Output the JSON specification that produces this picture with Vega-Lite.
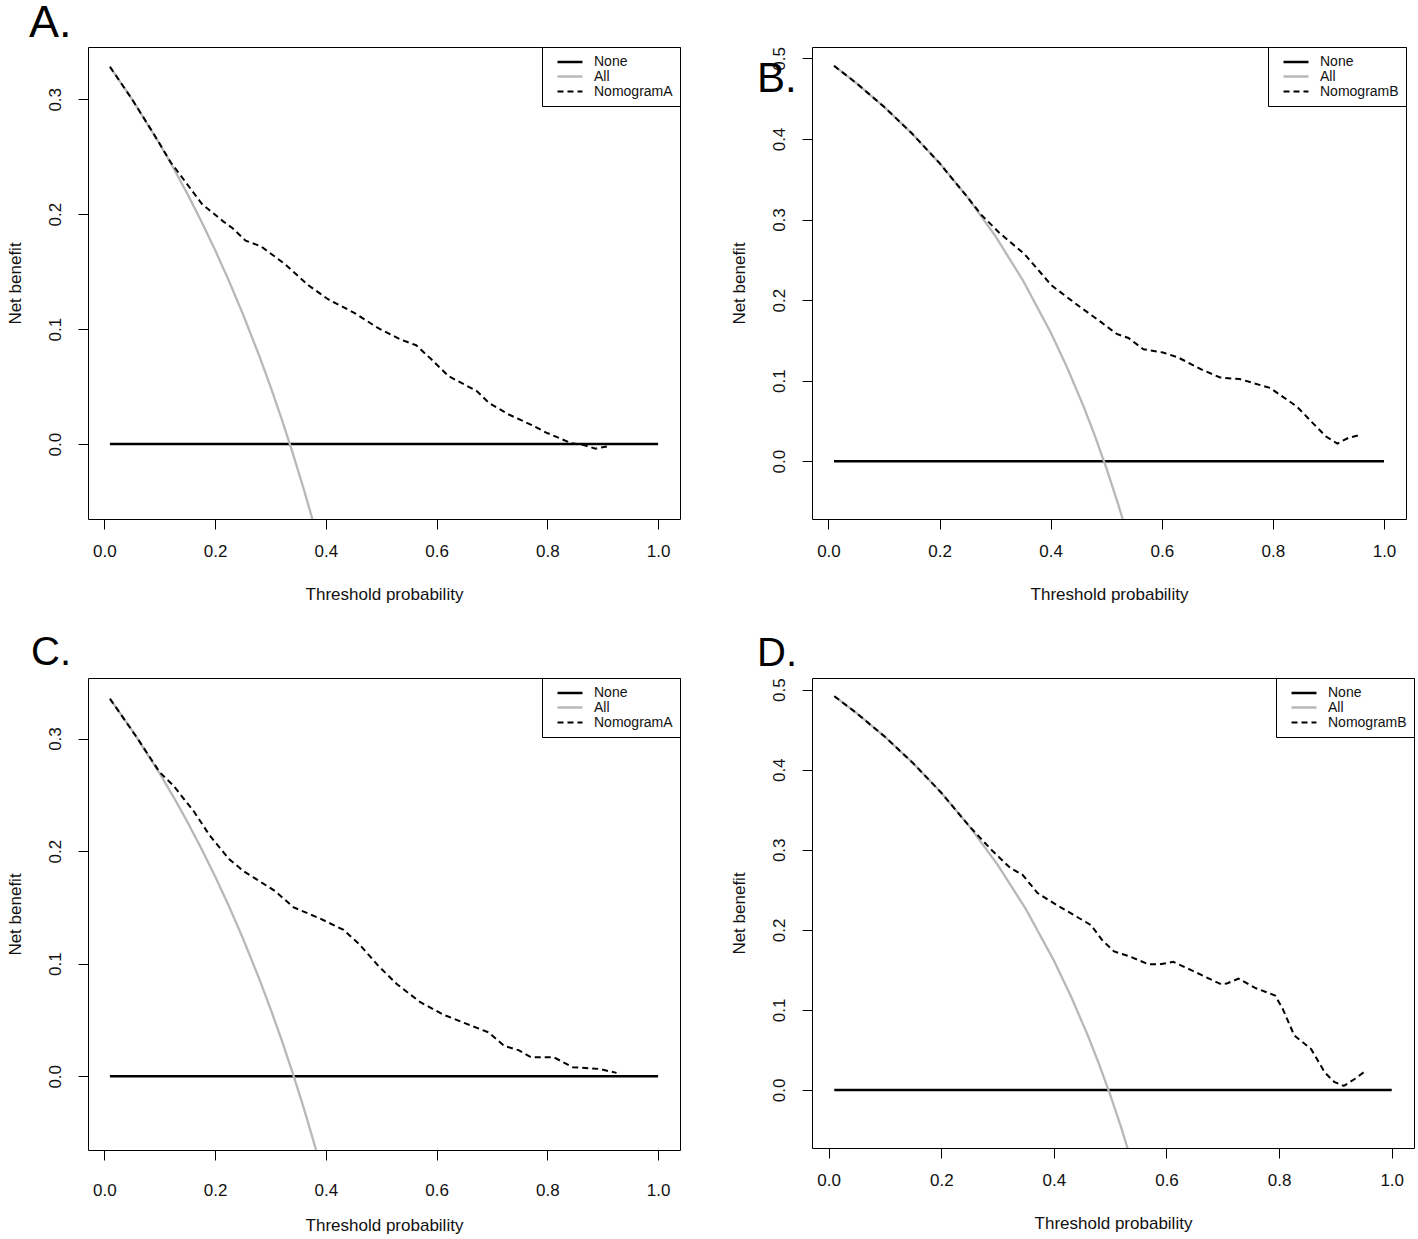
{
  "$schema": "https://vega.github.io/schema/vega-lite/v6.json",
  "background": "white",
  "padding": {"left": 5, "top": 0, "right": 0, "bottom": 0},
  "bounds": "flush",
  "columns": 2,
  "align": "each",
  "spacing": {"row": 159, "column": 132},
  "config": {
    "font": "Liberation Sans",
    "view": {"stroke": "black", "strokeWidth": 1},
    "axis": {"grid": false, "domain": false, "ticks": true, "tickColor": "black", "tickSize": 10, "tickWidth": 1,
             "labelFontSize": 17, "labelColor": "#111111", "labelFont": "Liberation Sans",
             "titleFontSize": 17, "titleFontWeight": "normal", "titleColor": "#111111", "titleFont": "Liberation Sans"},
    "axisX": {"labelPadding": 14, "titlePadding": 27},
    "axisY": {"labelAngle": -90, "labelAlign": "center", "labelBaseline": "bottom", "labelPadding": 13.5, "titlePadding": 22.5},
    "legend": {"orient": "top-right", "offset": 0, "strokeColor": "black", "fillColor": "white", "padding": 7,
               "symbolType": "M-2,0L2,0", "symbolSize": 156, "labelFontSize": 14, "labelFont": "Liberation Sans", "labelColor": "#111111",
               "rowPadding": 0, "labelOffset": 16, "symbolOffset": 13, "cornerRadius": 0},
    "title": {"anchor": "start", "frame": "group", "fontWeight": "normal", "font": "Liberation Sans", "color": "black", "baseline": "alphabetic"}
  },
  "datasets": {
    "dca": [
      {"panel": "A", "model": "None", "threshold": 0.01, "net_benefit": 0},
      {"panel": "A", "model": "None", "threshold": 1.0, "net_benefit": 0},
      {"panel": "A", "model": "All", "threshold": 0.01, "net_benefit": 0.3283},
      {"panel": "A", "model": "All", "threshold": 0.05, "net_benefit": 0.3000},
      {"panel": "A", "model": "All", "threshold": 0.10, "net_benefit": 0.2611},
      {"panel": "A", "model": "All", "threshold": 0.125, "net_benefit": 0.2400},
      {"panel": "A", "model": "All", "threshold": 0.15, "net_benefit": 0.2176},
      {"panel": "A", "model": "All", "threshold": 0.175, "net_benefit": 0.1939},
      {"panel": "A", "model": "All", "threshold": 0.20, "net_benefit": 0.1688},
      {"panel": "A", "model": "All", "threshold": 0.225, "net_benefit": 0.1419},
      {"panel": "A", "model": "All", "threshold": 0.25, "net_benefit": 0.1133},
      {"panel": "A", "model": "All", "threshold": 0.28, "net_benefit": 0.0764},
      {"panel": "A", "model": "All", "threshold": 0.30, "net_benefit": 0.0500},
      {"panel": "A", "model": "All", "threshold": 0.32, "net_benefit": 0.0221},
      {"panel": "A", "model": "All", "threshold": 0.34, "net_benefit": -0.0076},
      {"panel": "A", "model": "All", "threshold": 0.36, "net_benefit": -0.0391},
      {"panel": "A", "model": "All", "threshold": 0.38, "net_benefit": -0.0726},
      {"panel": "A", "model": "NomogramA", "threshold": 0.01, "net_benefit": 0.3283},
      {"panel": "A", "model": "NomogramA", "threshold": 0.05, "net_benefit": 0.3000},
      {"panel": "A", "model": "NomogramA", "threshold": 0.09, "net_benefit": 0.2692},
      {"panel": "A", "model": "NomogramA", "threshold": 0.12, "net_benefit": 0.2450},
      {"panel": "A", "model": "NomogramA", "threshold": 0.145, "net_benefit": 0.229},
      {"panel": "A", "model": "NomogramA", "threshold": 0.176, "net_benefit": 0.209},
      {"panel": "A", "model": "NomogramA", "threshold": 0.214, "net_benefit": 0.194},
      {"panel": "A", "model": "NomogramA", "threshold": 0.231, "net_benefit": 0.188},
      {"panel": "A", "model": "NomogramA", "threshold": 0.255, "net_benefit": 0.177},
      {"panel": "A", "model": "NomogramA", "threshold": 0.283, "net_benefit": 0.172},
      {"panel": "A", "model": "NomogramA", "threshold": 0.325, "net_benefit": 0.157},
      {"panel": "A", "model": "NomogramA", "threshold": 0.369, "net_benefit": 0.138},
      {"panel": "A", "model": "NomogramA", "threshold": 0.404, "net_benefit": 0.126},
      {"panel": "A", "model": "NomogramA", "threshold": 0.452, "net_benefit": 0.114},
      {"panel": "A", "model": "NomogramA", "threshold": 0.494, "net_benefit": 0.101},
      {"panel": "A", "model": "NomogramA", "threshold": 0.535, "net_benefit": 0.091},
      {"panel": "A", "model": "NomogramA", "threshold": 0.563, "net_benefit": 0.086},
      {"panel": "A", "model": "NomogramA", "threshold": 0.59, "net_benefit": 0.074},
      {"panel": "A", "model": "NomogramA", "threshold": 0.622, "net_benefit": 0.059},
      {"panel": "A", "model": "NomogramA", "threshold": 0.673, "net_benefit": 0.046},
      {"panel": "A", "model": "NomogramA", "threshold": 0.694, "net_benefit": 0.036},
      {"panel": "A", "model": "NomogramA", "threshold": 0.729, "net_benefit": 0.026},
      {"panel": "A", "model": "NomogramA", "threshold": 0.77, "net_benefit": 0.017},
      {"panel": "A", "model": "NomogramA", "threshold": 0.798, "net_benefit": 0.010},
      {"panel": "A", "model": "NomogramA", "threshold": 0.842, "net_benefit": 0.001},
      {"panel": "A", "model": "NomogramA", "threshold": 0.867, "net_benefit": -0.001},
      {"panel": "A", "model": "NomogramA", "threshold": 0.887, "net_benefit": -0.004},
      {"panel": "A", "model": "NomogramA", "threshold": 0.908, "net_benefit": -0.002},

      {"panel": "B", "model": "None", "threshold": 0.01, "net_benefit": 0},
      {"panel": "B", "model": "None", "threshold": 1.0, "net_benefit": 0},
      {"panel": "B", "model": "All", "threshold": 0.01, "net_benefit": 0.4909},
      {"panel": "B", "model": "All", "threshold": 0.05, "net_benefit": 0.4695},
      {"panel": "B", "model": "All", "threshold": 0.10, "net_benefit": 0.4400},
      {"panel": "B", "model": "All", "threshold": 0.15, "net_benefit": 0.4071},
      {"panel": "B", "model": "All", "threshold": 0.20, "net_benefit": 0.3700},
      {"panel": "B", "model": "All", "threshold": 0.25, "net_benefit": 0.3280},
      {"panel": "B", "model": "All", "threshold": 0.30, "net_benefit": 0.2800},
      {"panel": "B", "model": "All", "threshold": 0.35, "net_benefit": 0.2246},
      {"panel": "B", "model": "All", "threshold": 0.40, "net_benefit": 0.1600},
      {"panel": "B", "model": "All", "threshold": 0.43, "net_benefit": 0.1158},
      {"panel": "B", "model": "All", "threshold": 0.46, "net_benefit": 0.0667},
      {"panel": "B", "model": "All", "threshold": 0.48, "net_benefit": 0.0308},
      {"panel": "B", "model": "All", "threshold": 0.50, "net_benefit": -0.0080},
      {"panel": "B", "model": "All", "threshold": 0.52, "net_benefit": -0.0500},
      {"panel": "B", "model": "All", "threshold": 0.54, "net_benefit": -0.0957},
      {"panel": "B", "model": "NomogramB", "threshold": 0.01, "net_benefit": 0.4909},
      {"panel": "B", "model": "NomogramB", "threshold": 0.05, "net_benefit": 0.4695},
      {"panel": "B", "model": "NomogramB", "threshold": 0.10, "net_benefit": 0.4400},
      {"panel": "B", "model": "NomogramB", "threshold": 0.15, "net_benefit": 0.4071},
      {"panel": "B", "model": "NomogramB", "threshold": 0.20, "net_benefit": 0.3700},
      {"panel": "B", "model": "NomogramB", "threshold": 0.25, "net_benefit": 0.3280},
      {"panel": "B", "model": "NomogramB", "threshold": 0.275, "net_benefit": 0.306},
      {"panel": "B", "model": "NomogramB", "threshold": 0.307, "net_benefit": 0.284},
      {"panel": "B", "model": "NomogramB", "threshold": 0.353, "net_benefit": 0.257},
      {"panel": "B", "model": "NomogramB", "threshold": 0.402, "net_benefit": 0.218},
      {"panel": "B", "model": "NomogramB", "threshold": 0.45, "net_benefit": 0.193},
      {"panel": "B", "model": "NomogramB", "threshold": 0.492, "net_benefit": 0.172},
      {"panel": "B", "model": "NomogramB", "threshold": 0.519, "net_benefit": 0.158},
      {"panel": "B", "model": "NomogramB", "threshold": 0.54, "net_benefit": 0.153},
      {"panel": "B", "model": "NomogramB", "threshold": 0.567, "net_benefit": 0.139},
      {"panel": "B", "model": "NomogramB", "threshold": 0.602, "net_benefit": 0.135},
      {"panel": "B", "model": "NomogramB", "threshold": 0.629, "net_benefit": 0.129},
      {"panel": "B", "model": "NomogramB", "threshold": 0.671, "net_benefit": 0.114},
      {"panel": "B", "model": "NomogramB", "threshold": 0.705, "net_benefit": 0.104},
      {"panel": "B", "model": "NomogramB", "threshold": 0.74, "net_benefit": 0.102},
      {"panel": "B", "model": "NomogramB", "threshold": 0.795, "net_benefit": 0.091},
      {"panel": "B", "model": "NomogramB", "threshold": 0.843, "net_benefit": 0.068},
      {"panel": "B", "model": "NomogramB", "threshold": 0.871, "net_benefit": 0.048},
      {"panel": "B", "model": "NomogramB", "threshold": 0.895, "net_benefit": 0.031},
      {"panel": "B", "model": "NomogramB", "threshold": 0.916, "net_benefit": 0.022},
      {"panel": "B", "model": "NomogramB", "threshold": 0.936, "net_benefit": 0.029},
      {"panel": "B", "model": "NomogramB", "threshold": 0.953, "net_benefit": 0.032},

      {"panel": "C", "model": "None", "threshold": 0.01, "net_benefit": 0},
      {"panel": "C", "model": "None", "threshold": 1.0, "net_benefit": 0},
      {"panel": "C", "model": "All", "threshold": 0.01, "net_benefit": 0.3354},
      {"panel": "C", "model": "All", "threshold": 0.05, "net_benefit": 0.3074},
      {"panel": "C", "model": "All", "threshold": 0.10, "net_benefit": 0.2689},
      {"panel": "C", "model": "All", "threshold": 0.125, "net_benefit": 0.2480},
      {"panel": "C", "model": "All", "threshold": 0.15, "net_benefit": 0.2259},
      {"panel": "C", "model": "All", "threshold": 0.175, "net_benefit": 0.2024},
      {"panel": "C", "model": "All", "threshold": 0.20, "net_benefit": 0.1775},
      {"panel": "C", "model": "All", "threshold": 0.225, "net_benefit": 0.1510},
      {"panel": "C", "model": "All", "threshold": 0.25, "net_benefit": 0.1227},
      {"panel": "C", "model": "All", "threshold": 0.28, "net_benefit": 0.0861},
      {"panel": "C", "model": "All", "threshold": 0.30, "net_benefit": 0.0600},
      {"panel": "C", "model": "All", "threshold": 0.32, "net_benefit": 0.0324},
      {"panel": "C", "model": "All", "threshold": 0.34, "net_benefit": 0.0030},
      {"panel": "C", "model": "All", "threshold": 0.36, "net_benefit": -0.0281},
      {"panel": "C", "model": "All", "threshold": 0.385, "net_benefit": -0.0699},
      {"panel": "C", "model": "NomogramA", "threshold": 0.01, "net_benefit": 0.3354},
      {"panel": "C", "model": "NomogramA", "threshold": 0.059, "net_benefit": 0.3007},
      {"panel": "C", "model": "NomogramA", "threshold": 0.10, "net_benefit": 0.2700},
      {"panel": "C", "model": "NomogramA", "threshold": 0.125, "net_benefit": 0.258},
      {"panel": "C", "model": "NomogramA", "threshold": 0.162, "net_benefit": 0.235},
      {"panel": "C", "model": "NomogramA", "threshold": 0.19, "net_benefit": 0.214},
      {"panel": "C", "model": "NomogramA", "threshold": 0.225, "net_benefit": 0.193},
      {"panel": "C", "model": "NomogramA", "threshold": 0.252, "net_benefit": 0.182},
      {"panel": "C", "model": "NomogramA", "threshold": 0.307, "net_benefit": 0.165},
      {"panel": "C", "model": "NomogramA", "threshold": 0.342, "net_benefit": 0.150},
      {"panel": "C", "model": "NomogramA", "threshold": 0.39, "net_benefit": 0.140},
      {"panel": "C", "model": "NomogramA", "threshold": 0.432, "net_benefit": 0.130},
      {"panel": "C", "model": "NomogramA", "threshold": 0.459, "net_benefit": 0.118},
      {"panel": "C", "model": "NomogramA", "threshold": 0.494, "net_benefit": 0.0985},
      {"panel": "C", "model": "NomogramA", "threshold": 0.528, "net_benefit": 0.082},
      {"panel": "C", "model": "NomogramA", "threshold": 0.57, "net_benefit": 0.066},
      {"panel": "C", "model": "NomogramA", "threshold": 0.611, "net_benefit": 0.055},
      {"panel": "C", "model": "NomogramA", "threshold": 0.652, "net_benefit": 0.047},
      {"panel": "C", "model": "NomogramA", "threshold": 0.694, "net_benefit": 0.039},
      {"panel": "C", "model": "NomogramA", "threshold": 0.722, "net_benefit": 0.027},
      {"panel": "C", "model": "NomogramA", "threshold": 0.749, "net_benefit": 0.023},
      {"panel": "C", "model": "NomogramA", "threshold": 0.77, "net_benefit": 0.017},
      {"panel": "C", "model": "NomogramA", "threshold": 0.811, "net_benefit": 0.017},
      {"panel": "C", "model": "NomogramA", "threshold": 0.846, "net_benefit": 0.008},
      {"panel": "C", "model": "NomogramA", "threshold": 0.894, "net_benefit": 0.0065},
      {"panel": "C", "model": "NomogramA", "threshold": 0.925, "net_benefit": 0.003},

      {"panel": "D", "model": "None", "threshold": 0.01, "net_benefit": 0},
      {"panel": "D", "model": "None", "threshold": 1.0, "net_benefit": 0},
      {"panel": "D", "model": "All", "threshold": 0.01, "net_benefit": 0.4919},
      {"panel": "D", "model": "All", "threshold": 0.05, "net_benefit": 0.4705},
      {"panel": "D", "model": "All", "threshold": 0.10, "net_benefit": 0.4411},
      {"panel": "D", "model": "All", "threshold": 0.15, "net_benefit": 0.4082},
      {"panel": "D", "model": "All", "threshold": 0.20, "net_benefit": 0.3713},
      {"panel": "D", "model": "All", "threshold": 0.25, "net_benefit": 0.3293},
      {"panel": "D", "model": "All", "threshold": 0.30, "net_benefit": 0.2814},
      {"panel": "D", "model": "All", "threshold": 0.35, "net_benefit": 0.2262},
      {"panel": "D", "model": "All", "threshold": 0.40, "net_benefit": 0.1617},
      {"panel": "D", "model": "All", "threshold": 0.43, "net_benefit": 0.1175},
      {"panel": "D", "model": "All", "threshold": 0.46, "net_benefit": 0.0685},
      {"panel": "D", "model": "All", "threshold": 0.48, "net_benefit": 0.0327},
      {"panel": "D", "model": "All", "threshold": 0.50, "net_benefit": -0.0060},
      {"panel": "D", "model": "All", "threshold": 0.52, "net_benefit": -0.0479},
      {"panel": "D", "model": "All", "threshold": 0.54, "net_benefit": -0.0935},
      {"panel": "D", "model": "NomogramB", "threshold": 0.01, "net_benefit": 0.4919},
      {"panel": "D", "model": "NomogramB", "threshold": 0.05, "net_benefit": 0.4705},
      {"panel": "D", "model": "NomogramB", "threshold": 0.10, "net_benefit": 0.4411},
      {"panel": "D", "model": "NomogramB", "threshold": 0.15, "net_benefit": 0.4082},
      {"panel": "D", "model": "NomogramB", "threshold": 0.20, "net_benefit": 0.3713},
      {"panel": "D", "model": "NomogramB", "threshold": 0.25, "net_benefit": 0.3293},
      {"panel": "D", "model": "NomogramB", "threshold": 0.289, "net_benefit": 0.300},
      {"panel": "D", "model": "NomogramB", "threshold": 0.323, "net_benefit": 0.277},
      {"panel": "D", "model": "NomogramB", "threshold": 0.344, "net_benefit": 0.269},
      {"panel": "D", "model": "NomogramB", "threshold": 0.371, "net_benefit": 0.246},
      {"panel": "D", "model": "NomogramB", "threshold": 0.405, "net_benefit": 0.231},
      {"panel": "D", "model": "NomogramB", "threshold": 0.439, "net_benefit": 0.217},
      {"panel": "D", "model": "NomogramB", "threshold": 0.466, "net_benefit": 0.206},
      {"panel": "D", "model": "NomogramB", "threshold": 0.486, "net_benefit": 0.187},
      {"panel": "D", "model": "NomogramB", "threshold": 0.507, "net_benefit": 0.173},
      {"panel": "D", "model": "NomogramB", "threshold": 0.534, "net_benefit": 0.167},
      {"panel": "D", "model": "NomogramB", "threshold": 0.568, "net_benefit": 0.157},
      {"panel": "D", "model": "NomogramB", "threshold": 0.588, "net_benefit": 0.157},
      {"panel": "D", "model": "NomogramB", "threshold": 0.612, "net_benefit": 0.160},
      {"panel": "D", "model": "NomogramB", "threshold": 0.643, "net_benefit": 0.150},
      {"panel": "D", "model": "NomogramB", "threshold": 0.67, "net_benefit": 0.141},
      {"panel": "D", "model": "NomogramB", "threshold": 0.697, "net_benefit": 0.132},
      {"panel": "D", "model": "NomogramB", "threshold": 0.707, "net_benefit": 0.133},
      {"panel": "D", "model": "NomogramB", "threshold": 0.728, "net_benefit": 0.139},
      {"panel": "D", "model": "NomogramB", "threshold": 0.759, "net_benefit": 0.127},
      {"panel": "D", "model": "NomogramB", "threshold": 0.793, "net_benefit": 0.118},
      {"panel": "D", "model": "NomogramB", "threshold": 0.806, "net_benefit": 0.102},
      {"panel": "D", "model": "NomogramB", "threshold": 0.827, "net_benefit": 0.068},
      {"panel": "D", "model": "NomogramB", "threshold": 0.857, "net_benefit": 0.051},
      {"panel": "D", "model": "NomogramB", "threshold": 0.881, "net_benefit": 0.022},
      {"panel": "D", "model": "NomogramB", "threshold": 0.898, "net_benefit": 0.010},
      {"panel": "D", "model": "NomogramB", "threshold": 0.915, "net_benefit": 0.005},
      {"panel": "D", "model": "NomogramB", "threshold": 0.935, "net_benefit": 0.014},
      {"panel": "D", "model": "NomogramB", "threshold": 0.952, "net_benefit": 0.023}
    ]
  },
  "concat": [
    {
      "width": 592, "height": 472,
      "title": {"text": "A.", "fontSize": 45, "dx": -59, "offset": 1},
      "data": {"name": "dca"},
      "transform": [{"filter": "datum.panel === 'A'"}],
      "mark": {"type": "line", "clip": true},
      "encoding": {
        "x": {"field": "threshold", "type": "quantitative", "scale": {"domain": [-0.0296, 1.0396], "nice": false, "zero": false},
              "axis": {"values": [0, 0.2, 0.4, 0.6, 0.8, 1.0], "format": ".1f", "title": "Threshold probability"}},
        "y": {"field": "net_benefit", "type": "quantitative", "scale": {"domain": [-0.0652, 0.3455], "nice": false, "zero": false},
              "axis": {"values": [0, 0.1, 0.2, 0.3], "format": ".1f", "title": "Net benefit"}},
        "color": {"field": "model", "type": "nominal", "scale": {"domain": ["None", "All", "NomogramA"], "range": ["black", "#b8b8b8", "black"]}, "legend": {"title": null}},
        "strokeDash": {"field": "model", "type": "nominal", "scale": {"domain": ["None", "All", "NomogramA"], "range": [[1, 0], [1, 0], [6, 4]]}, "legend": {"title": null}},
        "strokeWidth": {"field": "model", "type": "nominal", "scale": {"domain": ["None", "All", "NomogramA"], "range": [2.6, 2, 1.2]}, "legend": {"title": null}}
      }
    },
    {
      "width": 594, "height": 472,
      "title": {"text": "B.", "fontSize": 42, "dx": -55, "offset": -54},
      "data": {"name": "dca"},
      "transform": [{"filter": "datum.panel === 'B'"}],
      "mark": {"type": "line", "clip": true},
      "encoding": {
        "x": {"field": "threshold", "type": "quantitative", "scale": {"domain": [-0.0296, 1.0396], "nice": false, "zero": false},
              "axis": {"values": [0, 0.2, 0.4, 0.6, 0.8, 1.0], "format": ".1f", "title": "Threshold probability"}},
        "y": {"field": "net_benefit", "type": "quantitative", "scale": {"domain": [-0.0717, 0.5142], "nice": false, "zero": false},
              "axis": {"values": [0, 0.1, 0.2, 0.3, 0.4, 0.5], "format": ".1f", "title": "Net benefit"}},
        "color": {"field": "model", "type": "nominal", "scale": {"domain": ["None", "All", "NomogramB"], "range": ["black", "#b8b8b8", "black"]}, "legend": {"title": null}},
        "strokeDash": {"field": "model", "type": "nominal", "scale": {"domain": ["None", "All", "NomogramB"], "range": [[1, 0], [1, 0], [6, 4]]}, "legend": {"title": null}},
        "strokeWidth": {"field": "model", "type": "nominal", "scale": {"domain": ["None", "All", "NomogramB"], "range": [2.6, 2, 1.2]}, "legend": {"title": null}}
      }
    },
    {
      "width": 592, "height": 472,
      "title": {"text": "C.", "fontSize": 40, "dx": -57, "offset": 5},
      "data": {"name": "dca"},
      "transform": [{"filter": "datum.panel === 'C'"}],
      "mark": {"type": "line", "clip": true},
      "encoding": {
        "x": {"field": "threshold", "type": "quantitative", "scale": {"domain": [-0.0296, 1.0396], "nice": false, "zero": false},
              "axis": {"values": [0, 0.2, 0.4, 0.6, 0.8, 1.0], "format": ".1f", "title": "Threshold probability", "labelPadding": 22, "titlePadding": 19}},
        "y": {"field": "net_benefit", "type": "quantitative", "scale": {"domain": [-0.0655, 0.3538], "nice": false, "zero": false},
              "axis": {"values": [0, 0.1, 0.2, 0.3], "format": ".1f", "title": "Net benefit"}},
        "color": {"field": "model", "type": "nominal", "scale": {"domain": ["None", "All", "NomogramA"], "range": ["black", "#b8b8b8", "black"]}, "legend": {"title": null}},
        "strokeDash": {"field": "model", "type": "nominal", "scale": {"domain": ["None", "All", "NomogramA"], "range": [[1, 0], [1, 0], [6, 4]]}, "legend": {"title": null}},
        "strokeWidth": {"field": "model", "type": "nominal", "scale": {"domain": ["None", "All", "NomogramA"], "range": [2.6, 2, 1.2]}, "legend": {"title": null}}
      }
    },
    {
      "width": 602, "height": 470,
      "title": {"text": "D.", "fontSize": 40, "dx": -55, "offset": 4},
      "data": {"name": "dca"},
      "transform": [{"filter": "datum.panel === 'D'"}],
      "mark": {"type": "line", "clip": true},
      "encoding": {
        "x": {"field": "threshold", "type": "quantitative", "scale": {"domain": [-0.0296, 1.0396], "nice": false, "zero": false},
              "axis": {"values": [0, 0.2, 0.4, 0.6, 0.8, 1.0], "format": ".1f", "title": "Threshold probability"}},
        "y": {"field": "net_benefit", "type": "quantitative", "scale": {"domain": [-0.0725, 0.5146], "nice": false, "zero": false},
              "axis": {"values": [0, 0.1, 0.2, 0.3, 0.4, 0.5], "format": ".1f", "title": "Net benefit"}},
        "color": {"field": "model", "type": "nominal", "scale": {"domain": ["None", "All", "NomogramB"], "range": ["black", "#b8b8b8", "black"]}, "legend": {"title": null}},
        "strokeDash": {"field": "model", "type": "nominal", "scale": {"domain": ["None", "All", "NomogramB"], "range": [[1, 0], [1, 0], [6, 4]]}, "legend": {"title": null}},
        "strokeWidth": {"field": "model", "type": "nominal", "scale": {"domain": ["None", "All", "NomogramB"], "range": [2.6, 2, 1.2]}, "legend": {"title": null}}
      }
    }
  ],
  "resolve": {
    "scale": {"x": "independent", "y": "independent", "color": "independent", "strokeDash": "independent", "strokeWidth": "independent"},
    "axis": {"x": "independent", "y": "independent"},
    "legend": {"color": "independent", "strokeDash": "independent", "strokeWidth": "independent"}
  }
}
